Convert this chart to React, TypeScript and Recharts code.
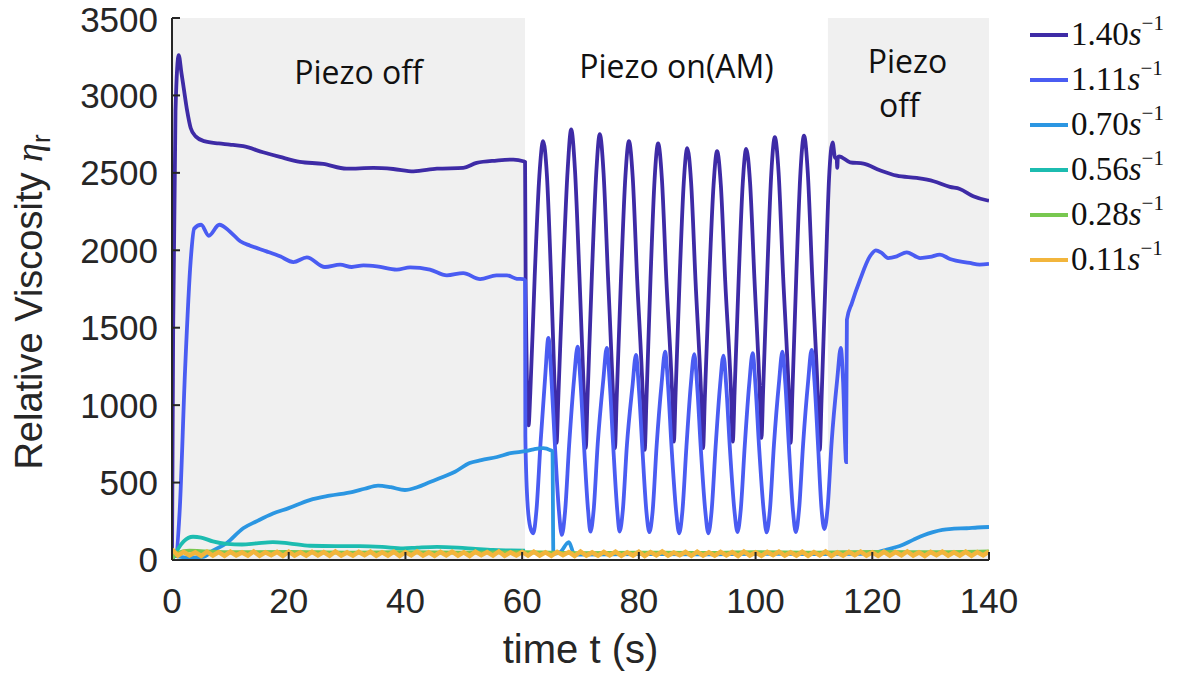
import React from "react";
import {
  LineChart,
  Line,
  XAxis,
  YAxis,
  ReferenceArea,
  Legend,
} from "recharts";

// axis ticks
const X_TICKS = [0, 20, 40, 60, 80, 100, 120, 140];
const Y_TICKS = [0, 500, 1000, 1500, 2000, 2500, 3000, 3500];

// piezo phases (s)
const PIEZO_ON_START = 60.5;
const PIEZO_ON_END = 112.4;

// 1.40 s^-1
const time140 = [
  0, 0.2, 0.6, 1.15, 1.6, 2.0, 2.6, 3.2, 4.1, 5.5, 8, 9.9, 12.2, 15.6, 18.5, 21.9, 25.9, 29.9, 34.5, 37.9,
  41.4, 45.4, 49.9, 52.2, 55.6, 58.5, 60.2, 60.5, 60.6,
  61.1, 61.4, 62.15, 62.95, 63.6, 64.25, 64.95, 65.6,
  65.9, 66.2, 67.0, 67.8, 68.4, 69.05, 69.8, 70.6,
  70.9, 71.2, 71.95, 72.7, 73.3, 73.95, 74.7, 75.6,
  75.9, 76.2, 76.95, 77.7, 78.3, 78.95, 79.7, 80.7,
  81.0, 81.3, 82.0, 82.7, 83.3, 83.95, 84.7, 85.7,
  86.0, 86.3, 87.0, 87.7, 88.3, 88.95, 89.7, 90.7,
  91.0, 91.3, 92.05, 92.8, 93.4, 94.05, 94.8, 95.8,
  96.1, 96.4, 97.1, 97.8, 98.4, 99.05, 99.8, 100.7,
  101.0, 101.3, 102.0, 102.7, 103.3, 103.95, 104.7, 105.7,
  106.0, 106.3, 107.0, 107.7, 108.3, 108.95, 109.7, 110.7,
  111.0, 111.3, 112.0, 112.6, 113.2, 113.6, 113.9, 114.0, 114.1, 114.3,
  116.2, 118.5, 121.3, 124.2, 127.6, 130.5, 133.3, 135.0, 137.3, 139.6, 140,
];
const visc140 = [
  0, 1500, 2900, 3260, 3150, 3050, 2900, 2790, 2734, 2705, 2690, 2683, 2672, 2633, 2603, 2571, 2558, 2527, 2532, 2525,
  2510, 2527, 2532, 2564, 2579, 2586, 2575, 2570, 1800,
  870, 1080, 1830, 2480, 2705, 2480, 1830, 1080,
  756, 1050, 1850, 2520, 2780, 2520, 1850, 1060,
  724, 1040, 1840, 2500, 2750, 2500, 1840, 1050,
  722, 1040, 1830, 2480, 2705, 2470, 1820, 1040,
  711, 1030, 1820, 2460, 2690, 2460, 1820, 1080,
  765, 1080, 1830, 2440, 2660, 2440, 1810, 1040,
  722, 1040, 1800, 2420, 2640, 2420, 1800, 1080,
  765, 1080, 1810, 2430, 2655, 2440, 1820, 1100,
  788, 1100, 1850, 2500, 2730, 2500, 1850, 1070,
  756, 1070, 1860, 2510, 2740, 2500, 1840, 1030,
  711, 1030, 1830, 2470, 2697, 2600, 2590, 2532, 2600, 2607,
  2568, 2560, 2517, 2482, 2467, 2446, 2409, 2396, 2349, 2323, 2320,
];

// 1.11 s^-1
const time111 = [
  0, 0.7, 1.3, 2.25, 3.2, 3.8, 5.0, 6.3, 8.1, 9.9, 11.7, 13.4, 16.2, 18.5, 20.8, 23.1, 26.2, 28.8, 30.8, 32.8,
  35.1, 38.5, 40.8, 44.2, 47.1, 49.9, 52.8, 55.6, 57.4, 59.1, 60.2, 60.5, 60.55, 60.9, 61.4,
  61.9, 62.45, 63.15, 63.95, 64.5, 65.0, 65.6, 66.3,
  66.8, 67.35, 68.05, 68.9, 69.5, 70.0, 70.6, 71.3,
  71.7, 72.25, 72.95, 73.9, 74.5, 75.0, 75.6, 76.3,
  76.7, 77.25, 77.95, 78.9, 79.5, 80.0, 80.6, 81.3,
  81.8, 82.35, 83.05, 83.9, 84.5, 85.0, 85.6, 86.4,
  86.9, 87.45, 88.15, 88.9, 89.5, 90.0, 90.6, 91.4,
  91.9, 92.45, 93.15, 93.9, 94.5, 95.0, 95.6, 96.4,
  96.9, 97.45, 98.15, 98.9, 99.5, 100.0, 100.6, 101.4,
  101.9, 102.45, 103.15, 104.0, 104.6, 105.1, 105.7, 106.4,
  106.9, 107.45, 108.15, 109.0, 109.6, 110.1, 110.7, 111.3,
  111.8, 112.35, 113.05, 114.0, 114.6, 115.0, 115.4, 115.5, 115.65,
  116.5, 117.9, 119.6, 120.6, 121.6, 122.7, 124.2, 125.9, 128.2, 129.9, 131.6, 133.3, 136.7, 138.4, 140,
];
const visc111 = [
  20, 30, 307, 1235, 1933, 2140, 2165, 2094, 2165, 2122, 2058, 2030, 1993, 1961, 1924, 1954, 1892, 1907, 1892, 1902,
  1896, 1875, 1890, 1875, 1838, 1853, 1814, 1838, 1838, 1816, 1814, 1805, 800, 380, 210,
  172, 320, 754, 1185, 1435, 1185, 754, 320,
  162, 310, 740, 1170, 1377, 1150, 740, 320,
  183, 320, 750, 1160, 1370, 1150, 740, 320,
  183, 320, 740, 1120, 1325, 1110, 720, 310,
  180, 310, 740, 1140, 1345, 1130, 730, 310,
  172, 310, 730, 1130, 1330, 1120, 730, 310,
  172, 310, 730, 1120, 1320, 1110, 720, 310,
  180, 320, 740, 1130, 1335, 1120, 730, 315,
  178, 320, 745, 1140, 1345, 1140, 740, 320,
  180, 325, 750, 1150, 1357, 1150, 745, 330,
  200, 340, 770, 1170, 1370, 1150, 700, 633, 1551,
  1659, 1810, 1961, 2000, 1983, 1950, 1961, 1987, 1950, 1957, 1972, 1944, 1918, 1907, 1912,
];

// 0.70 s^-1
const time070 = [
  0, 3, 5.3, 7, 9.4, 12.2, 14.5, 17.3, 20, 23.6, 27, 31, 33, 35.3, 37.5, 39.9, 42, 44, 46.4, 48.5,
  51, 53, 55.7, 58, 60.8, 62, 63.6, 64.8, 65.2, 65.35, 66.5, 68, 68.9, 69.5,
  80, 90, 100, 110, 118, 120.8, 122.5, 124.7, 127, 128.8, 130.4, 132, 134, 136.2, 138, 140,
];
const visc070 = [
  30, 15, 20, 60, 110, 205, 250, 300, 335, 387, 415, 440, 460, 480, 470, 452, 470, 500, 536, 570,
  626, 645, 665, 690, 704, 715, 723, 710, 700, 40, 50, 115, 40, 35,
  38, 36, 40, 38, 40, 50, 68, 90, 130, 160, 180, 195, 202, 205, 210, 213,
];

// 0.56 s^-1
const time056 = [
  0, 1, 2, 3.6, 5, 7, 9.4, 12, 14.5, 17.3, 20, 23.6, 28, 32.2, 36, 39.6, 42, 45.4, 49, 52, 55, 58, 60.5,
];
const visc056 = [
  0, 70, 120, 150, 145, 120, 104, 100, 108, 116, 108, 92, 90, 90, 85, 75, 80, 85, 80, 72, 65, 62, 60,
];

// 0.28 s^-1
const time028 = [0, 1, 3, 6, 10, 20, 30, 40, 50, 60, 70, 80, 90, 100, 110, 120, 130, 140];
const visc028 = [10, 45, 60, 55, 50, 52, 48, 50, 47, 50, 45, 48, 46, 50, 48, 52, 50, 55];

// 0.11 s^-1, sampled every second from t = 0
const visc011 = [
  70, 28, 52, 30, 50, 26, 54, 29, 51, 27,
  53, 30, 49, 28, 55, 27, 50, 31, 52, 26,
  54, 29, 50, 28, 53, 30, 51, 27, 55, 29,
  49, 28, 52, 31, 54, 27, 50, 29, 53, 26,
  51, 30, 55, 28, 49, 27, 52, 30, 54, 29,
  50, 26, 53, 31, 51, 28, 55, 27, 49, 30,
  52, 28, 54, 29, 50, 27, 53, 31, 51, 26,
  55, 29, 49, 28, 52, 30, 54, 27, 50, 29,
  53, 26, 51, 30, 55, 28, 49, 31, 52, 27,
  54, 29, 50, 28, 53, 30, 51, 26, 55, 29,
  49, 27, 52, 31, 54, 28, 50, 29, 53, 27,
  51, 30, 55, 26, 49, 28, 52, 31, 54, 29,
  50, 27, 53, 28, 51, 30, 55, 29, 49, 26,
  52, 31, 54, 28, 50, 29, 53, 27, 51, 30,
  55,
];

const zip = (ts: number[], vs: number[]) => ts.map((t, i) => ({ t, v: vs[i] }));

const series = [
  { name: "1.40", color: "#3e2ba6", data: zip(time140, visc140), curve: "monotone", width: 3.8 },
  { name: "1.11", color: "#4a5cf2", data: zip(time111, visc111), curve: "monotone", width: 3.8 },
  { name: "0.70", color: "#2b96e2", data: zip(time070, visc070), curve: "monotone", width: 3.8 },
  { name: "0.56", color: "#1cbcb0", data: zip(time056, visc056), curve: "monotone", width: 3.8 },
  { name: "0.28", color: "#78c850", data: zip(time028, visc028), curve: "monotone", width: 3.8 },
  { name: "0.11", color: "#f2b53c", data: visc011.map((v, i) => ({ t: i, v })), curve: "linear", width: 4.5 },
];

const AXIS_COLOR = "#262626";
const SANS = "'Liberation Sans', Arial, sans-serif";
const ANNOT = "'Open Sans', sans-serif";

function RegionLabel(props: any) {
  const { viewBox, lines } = props;
  if (!viewBox) return null;
  const cx = viewBox.x + viewBox.width / 2;
  return (
    <g>
      {lines.map((l: any, i: number) => (
        <text
          key={i}
          x={cx + l.dx}
          y={viewBox.y + l.dy}
          textAnchor="middle"
          fontFamily={ANNOT}
          fontSize={32}
          fill="#111"
        >
          {l.text}
        </text>
      ))}
    </g>
  );
}

function LegendBox() {
  return (
    <svg width={166} height={290}>
      {series.map((s, i) => {
        const y = 35 + i * 45;
        return (
          <g key={s.name}>
            <line x1={10} x2={48} y1={y} y2={y} stroke={s.color} strokeWidth={4} />
            <text x={51} y={y + 10} fontFamily="'Liberation Serif', 'DejaVu Serif', serif" fontSize={33} fill="#111">
              {s.name}
              <tspan fontStyle="italic">s</tspan>
              <tspan fontSize={21} dy={-15}>−1</tspan>
            </text>
          </g>
        );
      })}
    </svg>
  );
}

export default function App() {
  return (
    <div style={{ width: 1186, height: 677, position: "relative", background: "#fff" }}>
      <style>{"body{margin:0}"}</style>
      <LineChart width={1186} height={677} margin={{ top: 18, right: 197, bottom: 57, left: 72 }}>
        <ReferenceArea
          x1={0}
          x2={PIEZO_ON_START}
          y1={0}
          y2={3500}
          fill="#f0f0f0"
          fillOpacity={1}
          stroke="none"
          label={<RegionLabel lines={[{ text: "Piezo off", dx: 10, dy: 66 }]} />}
        />
        <ReferenceArea
          x1={PIEZO_ON_START}
          x2={PIEZO_ON_END}
          y1={0}
          y2={3500}
          fill="#ffffff"
          fillOpacity={1}
          stroke="none"
          label={<RegionLabel lines={[{ text: "Piezo on(AM)", dx: 0, dy: 60 }]} />}
        />
        <ReferenceArea
          x1={PIEZO_ON_END}
          x2={140}
          y1={0}
          y2={3500}
          fill="#f0f0f0"
          fillOpacity={1}
          stroke="none"
          label={
            <RegionLabel
              lines={[
                { text: "Piezo", dx: -1, dy: 55 },
                { text: "off", dx: -9, dy: 99 },
              ]}
            />
          }
        />
        <XAxis
          dataKey="t"
          type="number"
          domain={[0, 140]}
          ticks={X_TICKS}
          allowDataOverflow
          height={60}
          stroke={AXIS_COLOR}
          strokeWidth={2}
          tickSize={-8}
          tickMargin={36}
          tick={{ fill: AXIS_COLOR, fontSize: 35, fontFamily: SANS }}
          label={{
            content: (p: any) => (
              <text
                x={p.viewBox.x + p.viewBox.width / 2}
                y={663}
                textAnchor="middle"
                fontFamily={SANS}
                fontSize={40}
                fill={AXIS_COLOR}
              >
                time t (s)
              </text>
            ),
          }}
        />
        <XAxis
          xAxisId="top"
          orientation="top"
          dataKey="t"
          type="number"
          domain={[0, 140]}
          ticks={X_TICKS}
          allowDataOverflow
          height={0}
          stroke={AXIS_COLOR}
          strokeWidth={2}
          tickSize={-8}
          tick={false}
        />
        <YAxis
          type="number"
          domain={[0, 3500]}
          ticks={Y_TICKS}
          allowDataOverflow
          width={100}
          stroke={AXIS_COLOR}
          strokeWidth={2}
          tickSize={-8}
          tickMargin={22}
          tick={{ fill: AXIS_COLOR, fontSize: 35, fontFamily: SANS }}
          label={{
            content: () => (
              <text
                x={42}
                y={302}
                transform="rotate(-90, 42, 302)"
                textAnchor="middle"
                fontFamily={SANS}
                fontSize={38}
                fill={AXIS_COLOR}
              >
                Relative Viscosity{" "}
                <tspan fontFamily="'Liberation Serif', serif" fontStyle="italic">
                  η
                </tspan>
                <tspan fontSize={26} dy={8}>
                  r
                </tspan>
              </text>
            ),
          }}
        />
        <YAxis
          yAxisId="right"
          orientation="right"
          type="number"
          domain={[0, 3500]}
          ticks={Y_TICKS}
          allowDataOverflow
          width={0}
          stroke={AXIS_COLOR}
          strokeWidth={2}
          tickSize={-8}
          tick={false}
        />
        {series.map((s) => (
          <Line
            key={s.name}
            data={s.data}
            dataKey="v"
            name={s.name}
            type={s.curve as any}
            stroke={s.color}
            strokeWidth={s.width}
            dot={false}
            activeDot={false}
            isAnimationActive={false}
          />
        ))}
        <Legend
          layout="vertical"
          align="center"
          verticalAlign="middle"
          wrapperStyle={{ left: 1020, top: 0, width: 166, height: 290 }}
          content={() => <LegendBox />}
        />
      </LineChart>
    </div>
  );
}
